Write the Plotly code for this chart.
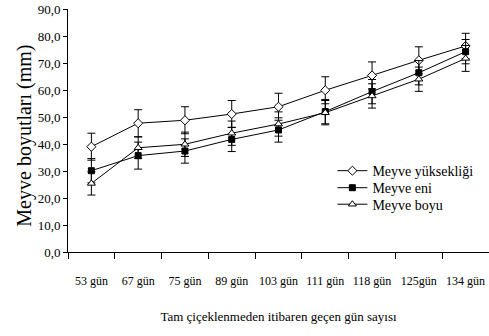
import plotly.graph_objects as go

categories = ["53 gün", "67 gün", "75 gün", "89 gün", "103 gün", "111 gün", "118 gün", "125gün", "134 gün"]
yukseklik = [39.0, 47.7, 48.8, 51.1, 53.8, 59.9, 65.4, 71.0, 76.3]
yukseklik_err = [5.0, 5.0, 5.0, 5.0, 5.0, 5.0, 5.0, 5.0, 4.7]
eni = [30.1, 35.7, 37.4, 41.7, 45.2, 52.0, 59.4, 66.4, 74.2]
eni_err = [4.5, 5.0, 4.5, 4.5, 4.5, 4.5, 4.5, 4.5, 4.5]
boyu = [25.4, 38.6, 39.9, 44.0, 47.4, 51.6, 57.8, 64.0, 71.7]
boyu_err = [4.3, 4.0, 4.5, 4.5, 4.5, 4.5, 4.5, 4.5, 4.8]
y_ticks = [0, 10, 20, 30, 40, 50, 60, 70, 80, 90]

FONT = "Liberation Serif"

def series(name, y, err, symbol, fill, size, legend):
    return go.Scatter(
        x=categories, y=y, name=name, mode="lines+markers", legend=legend,
        line=dict(color="black", width=1),
        marker=dict(symbol=symbol, size=size, color=fill, line=dict(color="black", width=1)),
        error_y=dict(type="data", array=err, visible=True, color="black", thickness=1, width=4),
    )

fig = go.Figure()
fig.add_trace(series("Meyve yüksekliği", yukseklik, yukseklik_err, "diamond", "white", 7, "legend"))
fig.add_trace(series("Meyve eni", eni, eni_err, "square", "black", 6, "legend2"))
fig.add_trace(series("Meyve boyu", boyu, boyu_err, "triangle-up", "white", 7, "legend3"))

leg_common = dict(x=0.628, xanchor="left", yanchor="middle",
                  font=dict(family=FONT, size=14, color="black"),
                  bgcolor="rgba(0,0,0,0)", itemwidth=30)

fig.update_layout(
    width=489, height=336,
    margin=dict(l=68, r=0, t=9, b=84),
    paper_bgcolor="white", plot_bgcolor="white",
    separators=", ",
    font=dict(family=FONT, size=12, color="black"),
    showlegend=True,
    legend=dict(y=0.333, **leg_common),
    legend2=dict(y=0.263, **leg_common),
    legend3=dict(y=0.195, **leg_common),
    annotations=[dict(
        text="Meyve boyutları (mm)", textangle=-90,
        xref="paper", yref="paper", x=-0.102, y=0.479,
        xanchor="center", yanchor="middle", showarrow=False,
        font=dict(family=FONT, size=20, color="black"),
    )],
)
fig.update_xaxes(
    type="category", range=[-0.5, 8.5], tickson="boundaries",
    showline=True, linecolor="black", linewidth=1,
    ticks="outside", ticklen=6, tickcolor="black", tickangle=0,
    ticklabelstandoff=18,
    showgrid=False, zeroline=False,
    tickfont=dict(family=FONT, size=12),
    title=dict(text="Tam çiçeklenmeden itibaren geçen gün sayısı", font=dict(family=FONT, size=13), standoff=24),
)
fig.update_yaxes(
    range=[0, 90], tickvals=y_ticks, tickformat=".1f",
    showline=True, linecolor="black", linewidth=1,
    ticks="outside", ticklen=4, tickcolor="black",
    showgrid=False, zeroline=False,
    tickfont=dict(family=FONT, size=13),
)

fig.write_html("out.html")
